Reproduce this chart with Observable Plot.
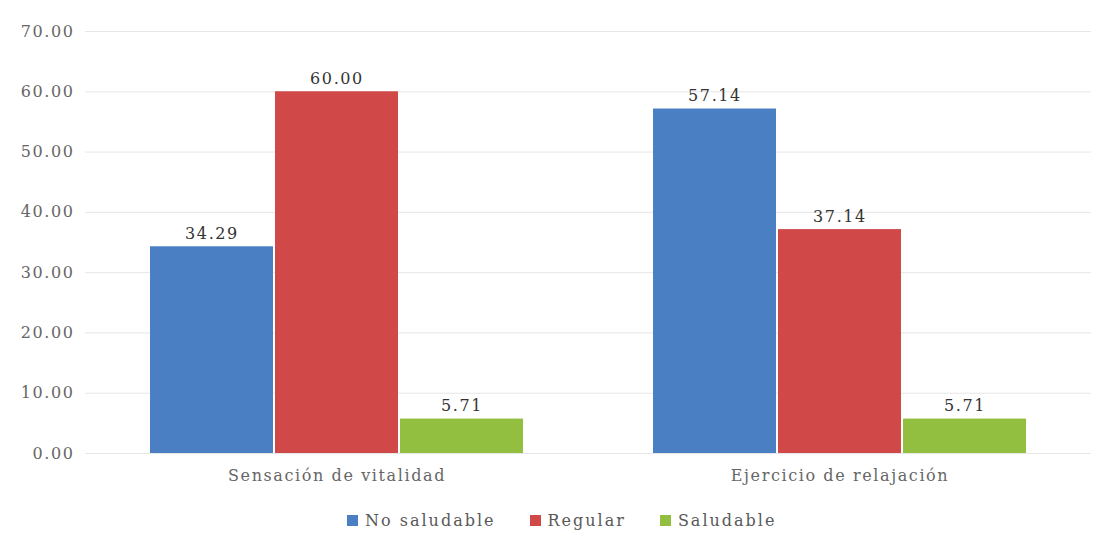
<!DOCTYPE html>
<html>
<head>
<meta charset="utf-8">
<script src="https://cdn.jsdelivr.net/npm/d3@7"></script>
<script src="https://cdn.jsdelivr.net/npm/@observablehq/plot@0.6"></script>
<style>
  html, body { margin: 0; padding: 0; background: #fff; }
  #chart { width: 1101px; }
  #chart svg text { letter-spacing: 1.6px; }
  .legend { display: flex; justify-content: flex-start; align-items: center; gap: 34px; padding-left: 347px;
            font-family: "DejaVu Serif", serif; font-size: 16px; letter-spacing: 2px; color: #595959; height: 40px; margin-top: 0px; }
  .legend span.item { display: flex; align-items: center; }
  .legend span.sw { display: inline-block; width: 11px; height: 11px; margin-right: 7px; }
</style>
</head>
<body>
<div id="chart"></div>
<script>
const categories = ["Sensación de vitalidad", "Ejercicio de relajación"];
const series = ["No saludable", "Regular", "Saludable"];
const noSaludable = [34.29, 57.14];
const regular = [60.00, 37.14];
const saludable = [5.71, 5.71];
const yTicks = [0, 10, 20, 30, 40, 50, 60, 70];
const colors = ["#4a7fc4", "#d04848", "#92bf40"];

const seriesValues = [noSaludable, regular, saludable];
const data = [];
categories.forEach((c, i) => {
  series.forEach((s, j) => data.push({category: c, series: s, value: seriesValues[j][i]}));
});

const fmt = d3.format(".2f");
const font = "DejaVu Serif";

const plot = Plot.plot({
  width: 1101,
  height: 500,
  marginTop: 31,
  marginBottom: 47,
  marginLeft: 85,
  marginRight: 9,
  style: {fontFamily: font, fontSize: "16px", color: "#666", background: "#fff"},
  fx: {domain: categories, paddingInner: 0.25, paddingOuter: 0.125, label: null, axis: "bottom", tickSize: 0, tickPadding: 16},
  x: {domain: series, padding: 0, axis: null},
  y: {domain: [0, 70], ticks: yTicks, tickFormat: fmt, label: null, tickSize: 0, tickPadding: 74},
  color: {domain: series, range: colors},
  marks: [
    Plot.ruleY(yTicks, {stroke: "#e6e6e6", insetLeft: -63, insetRight: -63}),
    Plot.barY(data, {fx: "category", x: "series", y: "value", fill: "series", insetLeft: 1, insetRight: 1}),
    Plot.text(data, {fx: "category", x: "series", y: "value", text: d => fmt(d.value), dy: -13, fill: "#333", fontSize: 16})
  ]
});
document.getElementById("chart").appendChild(plot);

const legend = document.createElement("div");
legend.className = "legend";
series.forEach((s, i) => {
  const item = document.createElement("span");
  item.className = "item";
  const sw = document.createElement("span");
  sw.className = "sw";
  sw.style.background = colors[i];
  item.appendChild(sw);
  item.appendChild(document.createTextNode(s));
  legend.appendChild(item);
});
document.getElementById("chart").appendChild(legend);
</script>
</body>
</html>
